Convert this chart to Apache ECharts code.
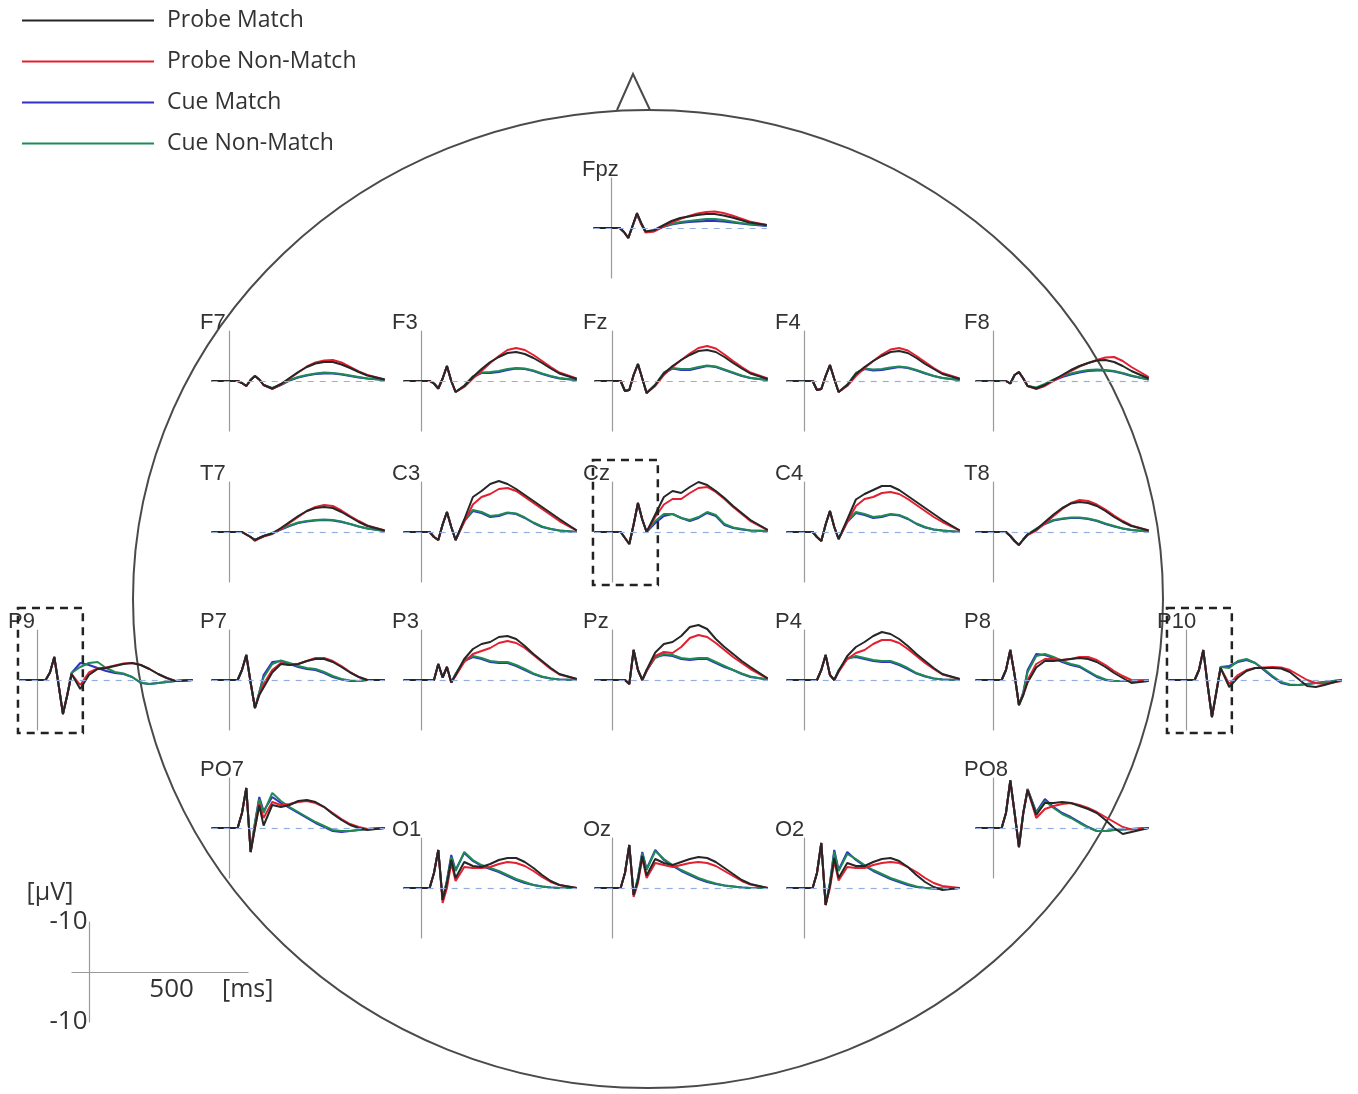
<!DOCTYPE html>
<html><head><meta charset="utf-8">
<script src="https://cdn.jsdelivr.net/npm/echarts@6/dist/echarts.min.js"></script>
<style>html,body{margin:0;padding:0;background:#fff}#c{width:1358px;height:1094px}</style>
</head><body><div id="c"></div>
<script>
// ---------------- DATA ----------------
const times = [-100,0,50,75,100,125,150,175,200,250,300,350,400,450,500,550,600,650,700,750,800,900]; // ms
const seriesNames = ['Probe Match','Probe Non-Match','Cue Match','Cue Non-Match'];
// each electrode: [Probe Match, Probe Non-Match, Cue Match, Cue Non-Match] in µV
const Fpz = [
 [0,0,0,-0.8,-2, 0.5,3,1,-0.7,-0.4, 0.5,1.4,2.0,2.3,2.6, 2.8,2.8,2.5,2.1,1.6, 1.1,0.6],
 [0,0,0,-0.8,-2, 0.4,2.8,0.8,-0.9,-0.7, 0.3,1.1,1.8,2.4,2.9, 3.2,3.3,3.0,2.5,1.9, 1.3,0.6],
 [0,0,0,-0.8,-2, 0.4,2.8,0.8,-0.8,-0.6, 0.2,0.7,1.0,1.2,1.3, 1.4,1.4,1.3,1.1,0.9, 0.7,0.4],
 [0,0,0,-0.8,-2, 0.4,2.8,0.8,-0.8,-0.5, 0.3,0.8,1.2,1.4,1.6, 1.8,1.8,1.6,1.3,1.0, 0.8,0.5]];
const F7 = [
 [0,0,0,-0.4,-1, 0.2,1,0.3,-0.8,-1.5, -0.6,0.6,1.8,2.8,3.5, 3.8,3.8,3.3,2.6,1.8, 1.1,0.3],
 [0,0,0,-0.4,-1, 0.2,1,0.3,-0.8,-1.6, -0.7,0.5,1.7,2.9,3.7, 4.1,4.2,3.7,2.8,1.9, 1.2,0.3],
 [0,0,0,-0.4,-1, 0.2,1,0.3,-0.8,-1.5, -0.8,0.1,0.7,1.1,1.4, 1.5,1.5,1.3,1.0,0.7, 0.5,0.2],
 [0,0,0,-0.4,-1, 0.2,1,0.3,-0.8,-1.4, -0.7,0.2,0.8,1.2,1.5, 1.7,1.6,1.4,1.1,0.8, 0.5,0.2]];
const F3 = [
 [0,0,0,-0.5,-1.5, 0.5,3,0,-2.2,-1.0, 0.8,2.4,3.8,4.8,5.6, 5.8,5.4,4.6,3.6,2.5, 1.5,0.4],
 [0,0,0,-0.5,-1.5, 0.5,3,0,-2.2,-1.2, 0.5,2.0,3.6,5.0,6.2, 6.6,6.2,5.2,4.0,2.8, 1.7,0.5],
 [0,0,0,-0.5,-1.5, 0.5,3,0,-2.2,-1.0, 0.8,1.6,1.6,1.8,2.2, 2.5,2.4,2.0,1.4,0.9, 0.5,0.2],
 [0,0,0,-0.5,-1.5, 0.5,3,0,-2.2,-0.9, 0.9,1.7,1.8,2.0,2.4, 2.6,2.5,2.1,1.5,1.0, 0.6,0.2]];
const Fz = [
 [0,0,0,-2,-1.8, 1.2,3.4,0.5,-2.4,-0.8, 1.5,3.0,4.2,5.2,6.0, 6.2,5.8,4.8,3.6,2.5, 1.5,0.4],
 [0,0,0,-2,-1.8, 1.2,3.4,0.5,-2.4,-1.0, 1.2,2.8,4.2,5.5,6.6, 7.0,6.5,5.3,4.0,2.8, 1.7,0.5],
 [0,0,0,-2,-1.8, 1.2,3.4,0.5,-2.4,-0.8, 1.6,2.5,2.2,2.2,2.6, 3.0,2.8,2.2,1.6,1.0, 0.6,0.2],
 [0,0,0,-2,-1.8, 1.2,3.4,0.5,-2.4,-0.7, 1.7,2.6,2.4,2.4,2.8, 3.1,2.9,2.3,1.7,1.1, 0.6,0.2]];
const F4 = [
 [0,0,0,-1.8,-1.6, 1.0,3.2,0.4,-2.2,-0.8, 1.4,2.8,4.0,5.0,5.8, 6.0,5.6,4.6,3.4,2.4, 1.4,0.4],
 [0,0,0,-1.8,-1.6, 1.0,3.2,0.4,-2.2,-1.0, 1.0,2.6,4.0,5.3,6.3, 6.6,6.1,5.0,3.8,2.6, 1.6,0.5],
 [0,0,0,-1.8,-1.6, 1.0,3.2,0.4,-2.2,-0.8, 1.5,2.4,2.1,2.2,2.5, 2.8,2.6,2.1,1.5,1.0, 0.6,0.2],
 [0,0,0,-1.8,-1.6, 1.0,3.2,0.4,-2.2,-0.7, 1.6,2.5,2.3,2.4,2.7, 2.9,2.7,2.2,1.6,1.0, 0.6,0.2]];
const F8 = [
 [0,0,0,0,-0.5, 1.2,1.8,0.5,-1.0,-1.5, -0.8,0.2,1.2,2.2,3.0, 3.6,4.1,4.2,3.8,3.0, 2.0,0.5],
 [0,0,0,0,-0.5, 1.2,1.8,0.5,-1.0,-1.6, -1.0,0,1.0,2.0,2.9, 3.6,4.2,4.7,4.8,4.0, 2.8,0.8],
 [0,0,0,0,-0.5, 1.2,1.8,0.5,-1.0,-1.4, -0.7,0.1,0.8,1.3,1.7, 2.0,2.1,2.1,1.9,1.5, 1.0,0.3],
 [0,0,0,0,-0.5, 1.2,1.8,0.5,-1.0,-1.3, -0.6,0.3,1.0,1.5,1.9, 2.2,2.3,2.2,2.0,1.6, 1.1,0.3]];
const T7 = [
 [0,0,0,0,-0.5, -1.0,-1.6,-1.2,-0.8,-0.3, 0.8,2.0,3.2,4.2,4.8, 5.0,4.8,4.0,3.0,2.0, 1.2,0.3],
 [0,0,0,0,-0.5, -1.0,-1.8,-1.3,-0.9,-0.4, 0.6,1.8,3.0,4.2,5.0, 5.4,5.2,4.3,3.2,2.2, 1.3,0.3],
 [0,0,0,0,-0.5, -1.0,-1.6,-1.2,-0.8,-0.3, 0.5,1.2,1.8,2.1,2.3, 2.4,2.3,2.0,1.6,1.1, 0.7,0.2],
 [0,0,0,0,-0.5, -1.0,-1.6,-1.2,-0.8,-0.2, 0.6,1.3,1.9,2.2,2.4, 2.5,2.4,2.1,1.6,1.1, 0.7,0.2]];
const C3 = [
 [0,0,0,-1,-1.6, 1.5,4,1,-1.6,2.5, 7.0,8.2,9.6,10.2,9.6, 8.6,7.4,6.2,5.0,3.8, 2.6,0.3],
 [0,0,0,-1,-1.6, 1.5,4,1,-1.6,2.0, 5.5,7.0,7.6,8.6,8.8, 8.2,7.0,5.8,4.6,3.4, 2.2,0.3],
 [0,0,0,-1,-1.6, 1.5,4,1,-1.6,2.2, 4.2,3.8,3.0,3.2,3.8, 3.6,2.8,1.8,1.0,0.6, 0.3,0],
 [0,0,0,-1,-1.6, 1.5,4,1,-1.6,2.3, 4.4,4.0,3.2,3.4,3.9, 3.7,2.9,1.9,1.1,0.6, 0.3,0]];
const Cz = [
 [0,0,0,-1.2,-2.4, 1.5,5.8,2.5,0,3.5, 7.0,8.2,7.8,9.0,10.0, 9.4,8.2,6.8,5.2,3.8, 2.4,0.4],
 [0,0,0,-1.2,-2.4, 1.5,5.8,2.5,0,3.0, 5.5,6.6,6.6,7.8,8.8, 9.0,8.0,6.6,5.0,3.6, 2.2,0.4],
 [0,0,0,-1.2,-2.4, 1.5,5.8,2.5,0,1.8, 3.2,3.6,2.8,2.2,2.8, 3.8,3.2,1.4,0.8,0.5, 0.3,0.2],
 [0,0,0,-1.2,-2.4, 1.5,5.8,2.5,0,2.2, 3.6,3.6,2.8,2.4,3.0, 4.0,3.4,1.6,0.9,0.6, 0.3,0.2]];
const C4 = [
 [0,0,0,-1,-1.8, 1.5,4.2,1,-1.4,2.5, 6.5,7.6,8.4,9.2,9.2, 8.4,7.2,6.0,4.8,3.6, 2.4,0.3],
 [0,0,0,-1,-1.8, 1.5,4.2,1,-1.4,2.0, 5.2,6.6,7.0,7.8,8.0, 7.6,6.6,5.4,4.2,3.0, 2.0,0.3],
 [0,0,0,-1,-1.8, 1.5,4.2,1,-1.4,2.0, 3.8,3.4,2.8,3.0,3.5, 3.3,2.6,1.6,0.9,0.5, 0.3,0],
 [0,0,0,-1,-1.8, 1.5,4.2,1,-1.4,2.1, 4.0,3.6,3.0,3.2,3.6, 3.4,2.7,1.7,1.0,0.5, 0.3,0]];
const T8 = [
 [0,0,0,0,-0.8, -1.8,-2.6,-1.5,-0.5,0.5, 2.0,3.5,4.8,5.7,6.0, 5.8,5.2,4.2,3.0,2.0, 1.2,0.3],
 [0,0,0,0,-0.8, -1.8,-2.6,-1.5,-0.6,0.3, 1.7,3.2,4.6,5.8,6.4, 6.2,5.5,4.5,3.3,2.2, 1.3,0.3],
 [0,0,0,0,-0.8, -1.8,-2.6,-1.5,-0.5,0.6, 1.6,2.3,2.6,2.8,2.8, 2.6,2.2,1.6,1.1,0.7, 0.4,0.1],
 [0,0,0,0,-0.8, -1.8,-2.6,-1.5,-0.5,0.7, 1.7,2.4,2.7,2.9,2.9, 2.7,2.3,1.7,1.2,0.7, 0.4,0.1]];
const P9 = [
 [0,0,0,1.5,4.6, -1,-6.8,-3,1.2,-1.8, 1.0,2.2,2.4,2.8,3.2, 3.4,3.0,2.2,1.2,0.4, -0.2,0],
 [0,0,0,1.5,4.6, -1,-6.8,-3,1.2,-1.0, 1.5,2.3,2.5,2.9,3.3, 3.4,3.0,2.2,1.2,0.4, -0.2,0],
 [0,0,0,1.5,4.6, -1,-6.8,-3,1.4,3.4, 3.0,2.4,1.8,1.4,1.2, 0.6,-0.6,-0.8,-0.6,-0.4, -0.2,0],
 [0,0,0,1.5,4.6, -1,-6.8,-3,1.4,2.6, 3.4,3.6,2.4,1.6,1.3, 0.6,-0.5,-0.8,-0.6,-0.4, -0.2,0]];
const P7 = [
 [0,0,0,2,5, -0.5,-5.6,-3,-1.5,1.5, 3.2,3.0,3.2,3.8,4.2, 4.2,3.6,2.6,1.5,0.6, 0,0],
 [0,0,0,2,5, -0.5,-5.6,-3,-0.8,2.0, 3.4,3.0,3.2,3.8,4.4, 4.4,3.8,2.8,1.6,0.6, 0,0],
 [0,0,0,2,5, -0.5,-5.6,-2.5,1.0,3.6, 3.8,3.2,2.6,2.2,2.0, 1.4,0.6,0.1,-0.2,-0.2, 0,0],
 [0,0,0,2,5, -0.5,-5.6,-2.5,0.5,3.2, 3.9,3.4,2.8,2.4,2.2, 1.6,0.8,0.2,-0.1,-0.2, 0,0]];
const P3 = [
 [0,0,0,0,3.2, 0.5,2.6,-0.5,1.0,4.2, 6.2,7.2,7.6,8.6,8.8, 8.2,6.8,5.2,3.8,2.4, 1.2,0.2],
 [0,0,0,0,3.2, 0.5,2.6,-0.5,0.8,3.6, 5.2,5.8,6.4,7.4,7.8, 7.4,6.4,5.0,3.6,2.2, 1.1,0.2],
 [0,0,0,0,3.2, 0.5,2.6,-0.5,1.2,3.8, 4.6,4.2,3.6,3.4,3.4, 2.8,2.0,1.2,0.6,0.3, 0.1,0],
 [0,0,0,0,3.2, 0.5,2.6,-0.5,1.2,4.0, 4.8,4.4,3.8,3.6,3.6, 3.0,2.2,1.3,0.7,0.3, 0.1,0]];
const Pz = [
 [0,0,0,0,-0.8, 6,2,0,2.0,5.5, 7.2,7.6,8.8,10.6,11.0, 10.2,8.2,6.6,5.2,3.8, 2.6,0.3],
 [0,0,0,0,-0.8, 6,2,0,1.8,4.8, 5.6,5.4,6.6,8.4,9.0, 8.6,7.4,6.0,4.6,3.4, 2.2,0.3],
 [0,0,0,0,-0.8, 6,2,0,1.8,4.6, 5.0,4.8,4.2,4.0,4.2, 4.2,3.4,2.6,2.0,1.2, 0.6,0.1],
 [0,0,0,0,-0.8, 6,2,0,2.0,4.4, 5.2,5.0,4.4,4.2,4.4, 4.4,3.6,2.8,2.0,1.3, 0.7,0.1]];
const P4 = [
 [0,0,0,0,2, 5,1,0,1.8,4.8, 6.6,7.6,8.8,9.6,9.2, 8.2,6.8,5.2,3.8,2.4, 1.2,0.2],
 [0,0,0,0,2, 5,1,0,1.6,4.2, 5.4,6.0,7.2,8.0,8.0, 7.4,6.2,4.8,3.4,2.2, 1.1,0.2],
 [0,0,0,0,2, 5,1,0,1.8,4.4, 4.6,4.2,3.8,3.6,3.6, 3.0,2.2,1.3,0.7,0.3, 0.1,0],
 [0,0,0,0,2, 5,1,0,2.0,4.2, 4.8,4.4,4.0,3.8,3.8, 3.2,2.4,1.4,0.8,0.3, 0.1,0]];
const P8 = [
 [0,0,0,2,6, 1,-5,-3,-0.5,2.5, 3.8,3.8,4.0,4.2,4.4, 4.2,3.6,2.6,1.4,0.4, -0.6,-0.2],
 [0,0,0,2,6, 1,-5,-3,0,3.2, 4.2,4.2,4.0,4.2,4.6, 4.6,4.0,3.0,1.8,0.8, 0,-0.2],
 [0,0,0,2,6, 1,-5,-2.5,2.0,5.2, 5.0,4.4,3.6,3.0,2.6, 1.6,0.6,0,-0.2,-0.2, -0.2,0],
 [0,0,0,2,6, 1,-5,-2.5,1.6,4.8, 5.2,4.6,3.8,3.2,2.8, 1.8,0.8,0.1,-0.2,-0.2, -0.2,0]];
const P10 = [
 [0,0,0,2,6, -1,-7.4,-2.5,2.4,-1.4, 0.5,1.8,2.4,2.4,2.4, 2.3,1.6,0.2,-1.2,-1.4, -1.0,0],
 [0,0,0,2,6, -1,-7.4,-2.5,2.4,-0.8, 1.0,2.0,2.4,2.5,2.6, 2.5,2.0,1.0,0,-0.6, -0.8,-0.2],
 [0,0,0,2,6, -1,-7.4,-2.5,2.6,2.8, 3.6,4.0,3.4,2.0,0.6, -0.6,-1.0,-1.0,-0.8,-0.6, -0.4,0],
 [0,0,0,2,6, -1,-7.4,-2.5,2.6,2.4, 3.8,4.2,3.4,2.2,0.8, -0.4,-0.9,-1.0,-0.8,-0.6, -0.4,0]];
const PO7 = [
 [0,0,0,3,8, -4.8,0,4.5,0.5,4.6, 4.2,4.6,5.4,5.6,5.2, 4.2,2.8,1.6,0.6,0, -0.4,0],
 [0,0,0,3,8, -4.8,0,4.8,2.0,5.2, 4.6,4.8,5.2,5.4,5.0, 4.2,3.0,1.8,0.8,0.2, -0.2,0],
 [0,0,0,3,8, -4.8,1,6.2,3.4,6.2, 5.0,4.0,3.0,2.0,1.0, 0.2,-0.6,-0.8,-0.6,-0.4, -0.2,0],
 [0,0,0,3,8, -4.8,1,5.8,3.0,7.0, 5.4,4.2,3.2,2.2,1.2, 0.4,-0.4,-0.6,-0.6,-0.4, -0.2,0]];
const PO8 = [
 [0,0,0,3,9.5, 3,-3.8,3,7.6,2.6, 5.0,5.0,5.2,5.0,4.4, 3.8,3.0,1.6,0,-1.2, -0.8,0],
 [0,0,0,3,9.5, 3,-3.8,3,7.6,2.0, 3.8,4.4,4.8,5.0,4.6, 4.0,3.2,2.2,1.2,0.2, -0.3,0],
 [0,0,0,3,9.5, 3,-3.8,3,7.8,3.2, 5.8,4.2,3.0,2.2,1.2, 0.2,-0.6,-0.6,-0.4,-0.3, -0.2,0],
 [0,0,0,3,9.5, 3,-3.8,3,7.8,3.0, 5.4,4.0,2.8,2.0,1.0, 0.1,-0.6,-0.6,-0.4,-0.3, -0.2,0]];
const O1 = [
 [0,0,0,3,7.6, -2.4,1,5.6,2,5.2, 4.4,4.2,4.8,5.6,6.0, 6.0,5.2,4.0,2.6,1.4, 0.6,0],
 [0,0,0,3,7.6, -3.0,0,5.0,1.4,4.2, 4.0,4.0,4.2,4.8,5.2, 5.0,4.4,3.4,2.2,1.2, 0.6,0],
 [0,0,0,3,7.6, -2.4,1.5,6.6,3.6,7.0, 5.4,4.4,3.8,3.2,2.4, 1.6,1.0,0.6,0.3,0.1, 0,0],
 [0,0,0,3,7.6, -2.4,1.5,6.2,3.4,7.2, 5.6,4.6,4.0,3.4,2.6, 1.8,1.2,0.6,0.3,0.1, 0,0]];
const Oz = [
 [0,0,0,3,8.6, -1.4,1.5,6.4,2.5,5.8, 5.0,4.6,5.2,5.8,6.2, 6.0,5.2,4.0,2.8,1.6, 0.8,0],
 [0,0,0,3,8.6, -1.8,1.0,6.0,2.0,5.0, 4.6,4.2,4.6,5.0,5.2, 5.0,4.4,3.4,2.4,1.4, 0.7,0],
 [0,0,0,3,8.6, -1.4,2.0,7.2,3.8,7.6, 5.6,4.4,3.4,2.6,1.8, 1.2,0.8,0.5,0.3,0.1, 0,0],
 [0,0,0,3,8.6, -1.4,2.0,7.0,3.6,7.4, 5.8,4.6,3.6,2.8,2.0, 1.4,0.9,0.5,0.3,0.1, 0,0]];
const O2 = [
 [0,0,0,3,9, -3.4,0.5,6.0,2.0,5.0, 4.4,4.4,5.2,5.8,6.0, 5.4,4.2,2.6,1.2,0.2, -0.4,0],
 [0,0,0,3,9, -3.4,0,5.4,1.5,4.2, 4.0,4.0,4.6,5.0,5.2, 5.0,4.2,3.2,2.0,1.0, 0.4,0],
 [0,0,0,3,9, -3.4,1.0,7.6,3.6,7.2, 5.6,4.4,3.4,2.6,1.8, 1.2,0.6,0.2,0,-0.1, -0.1,0],
 [0,0,0,3,9, -3.4,1.0,7.2,3.4,6.8, 5.8,4.6,3.6,2.8,2.0, 1.4,0.8,0.3,0,-0.1, -0.1,0]];
const electrodeNames = ['Fpz','F7','F3','Fz','F4','F8','T7','C3','Cz','C4','T8','P9','P7','P3','Pz','P4','P8','P10','PO7','PO8','O1','Oz','O2'];
const electrodeData = {Fpz,F7,F3,Fz,F4,F8,T7,C3,Cz,C4,T8,P9,P7,P3,Pz,P4,P8,P10,PO7,PO8,O1,Oz,O2};
// scale bar
const scaleXTick = 500;                 // ms
const scaleYTicks = [10, -10];          // µV (top, bottom)
const scaleYLabels = ['-10','-10'];     // as printed (top, bottom)
const scaleUnits = ['[µV]','[ms]'];
const boxedElectrodes = ['Cz','P9','P10'];
const boxTimeRange = [-110, 265];
const boxVoltRange = [-10.6, 14.4];

// ---------------- LAYOUT / STYLE ----------------
const layout = { // pixel position of the t=0 line and the baseline
 Fpz:[611,228], F7:[229,381], F3:[421,381], Fz:[612,381], F4:[804,381], F8:[993,381],
 T7:[229,532], C3:[421,532], Cz:[612,532], C4:[804,532], T8:[993,532],
 P9:[37,680], P7:[229,680], P3:[421,680], Pz:[612,680], P4:[804,680], P8:[993,680], P10:[1186,680],
 PO7:[229,828], PO8:[993,828], O1:[421,888], Oz:[612,888], O2:[804,888]};
const PX_PER_MS = 0.173, PLOT_W = 173, PLOT_H = 100;
const colors = ['#262626','#e3202f','#3030c4','#1f8a55'];
const drawOrder = [2,3,1,0];
const LABEL_FONT = 'Open Sans';

const grids = [], xAxes = [], yAxes = [], series = [];
electrodeNames.forEach((name, i) => {
  const [vx, by] = layout[name];
  grids.push({left: vx - 100*PX_PER_MS, top: by - PLOT_H/2, width: PLOT_W, height: PLOT_H, containLabel:false});
  xAxes.push({gridIndex:i, type:'value', min:-100, max:900, axisLine:{show:false}, axisTick:{show:false}, axisLabel:{show:false}, splitLine:{show:false}});
  yAxes.push({gridIndex:i, type:'value', min:-10, max:10, axisLine:{show:true, onZero:true, lineStyle:{color:'#9a9a9a', width:1.2}}, axisTick:{show:false}, axisLabel:{show:false}, splitLine:{show:false}});
  drawOrder.forEach((k, n) => {
    const s = {
      type:'line', name: seriesNames[k], xAxisIndex:i, yAxisIndex:i,
      data: times.map((t, j) => [t, electrodeData[name][k][j]]),
      symbol:'none', showSymbol:false, clip:false, silent:true, animation:false,
      color: colors[k], lineStyle:{width:2, color: colors[k]}, z:3
    };
    if (n === 0) s.markLine = {silent:true, symbol:'none', animation:false, label:{show:false},
      lineStyle:{type:[6,6], color:'#95aee0', width:1.2}, data:[{yAxis:0}]};
    series.push(s);
  });
});
// scale bar grid
const SI = electrodeNames.length;
grids.push({left:72, top:922, width:176, height:100, containLabel:false});
xAxes.push({gridIndex:SI, type:'value', min:-100, max:900,
  axisLine:{show:true, onZero:true, lineStyle:{color:'#999', width:1.2}}, axisTick:{show:false}, splitLine:{show:false}, axisLabel:{show:false}});
yAxes.push({gridIndex:SI, type:'value', min:-10, max:10,
  axisLine:{show:true, onZero:true, lineStyle:{color:'#999', width:1.2}}, axisTick:{show:false}, splitLine:{show:false}, axisLabel:{show:false}});
series.push({type:'line', xAxisIndex:SI, yAxisIndex:SI, data:[], silent:true});

const chart = echarts.init(document.getElementById('c'), null, {renderer:'canvas'});
chart.setOption({
  animation:false,
  backgroundColor:'#fff',
  legend:{data: seriesNames, orient:'vertical', left:22, top:9, padding:0, icon:'rect', itemWidth:132, itemHeight:2, itemGap:18,
    selectedMode:false, textStyle:{fontSize:23, fontFamily:'Open Sans', color:'#333', padding:[0,0,0,8]}},
  grid: grids, xAxis: xAxes, yAxis: yAxes, series: series
});

// head outline, nose, labels, dashed boxes, scale-bar texts
const graphics = [
  {type:'ellipse', silent:true, z:0, shape:{cx:648, cy:599, rx:515, ry:489}, style:{fill:'none', stroke:'#4a4a4a', lineWidth:2}},
  {type:'polyline', silent:true, z:0, shape:{points:[[617,110],[633,74],[650,110]]}, style:{fill:'none', stroke:'#4a4a4a', lineWidth:2}}
];
const txt = (x, y, text, align, size, family) => ({type:'text', silent:true, z:5, x, y,
  style:{text, fontSize:size, fontFamily:family, fill:'#333', align, verticalAlign:'middle'}});
const pTop = chart.convertToPixel({gridIndex:SI}, [0, scaleYTicks[0]]);
const pBot = chart.convertToPixel({gridIndex:SI}, [0, scaleYTicks[1]]);
const pX = chart.convertToPixel({gridIndex:SI}, [scaleXTick, 0]);
const pEnd = chart.convertToPixel({gridIndex:SI}, [900, 0]);
graphics.push(txt(pTop[0] - 2, pTop[1], scaleYLabels[0], 'right', 26, LABEL_FONT));
graphics.push(txt(pBot[0] - 2, pBot[1], scaleYLabels[1], 'right', 26, LABEL_FONT));
graphics.push(txt(pX[0] - 6, pX[1] + 18, String(scaleXTick), 'center', 26, LABEL_FONT));
graphics.push(txt(pEnd[0] - 26, pX[1] + 18, scaleUnits[1], 'left', 25, LABEL_FONT));
graphics.push(txt(pTop[0] - 63, pTop[1] - 29, scaleUnits[0], 'left', 25, LABEL_FONT));
electrodeNames.forEach(name => {
  const [vx, by] = layout[name];
  graphics.push(txt(vx - 29, by - 58, name, 'left', 22, 'Liberation Sans'));
});
boxedElectrodes.forEach(name => {
  const gi = electrodeNames.indexOf(name);
  const p1 = chart.convertToPixel({gridIndex:gi}, [boxTimeRange[0], boxVoltRange[1]]);
  const p2 = chart.convertToPixel({gridIndex:gi}, [boxTimeRange[1], boxVoltRange[0]]);
  graphics.push({type:'rect', silent:true, z:6, shape:{x:p1[0], y:p1[1], width:p2[0]-p1[0], height:p2[1]-p1[1]},
    style:{fill:'none', stroke:'#222', lineWidth:2.5, lineDash:[8,6]}});
});
chart.setOption({graphic: graphics});
</script>
</body></html>
